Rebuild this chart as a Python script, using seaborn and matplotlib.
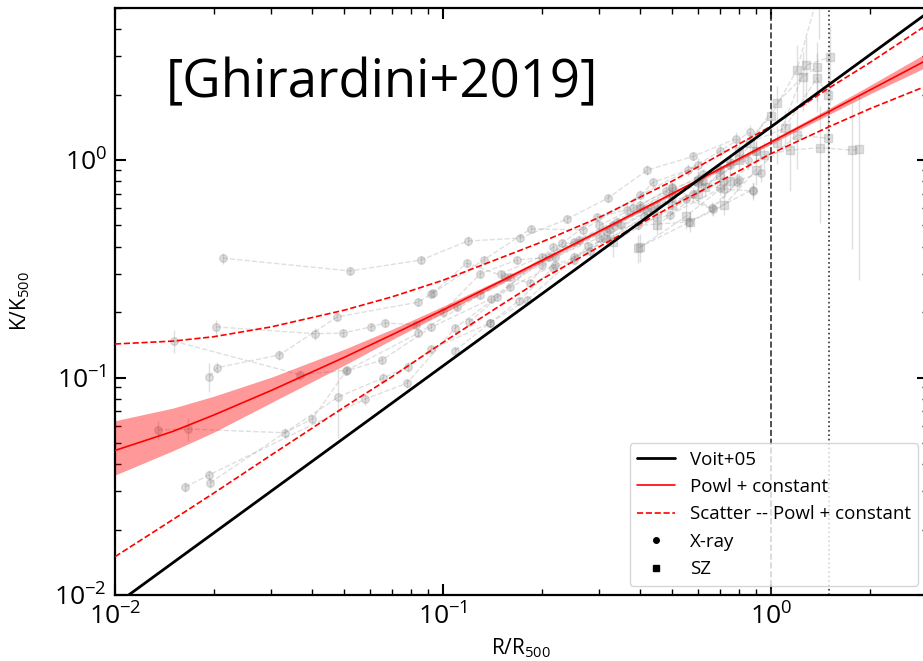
import matplotlib
matplotlib.use('Agg')
import matplotlib.pyplot as plt
import seaborn as sns
import pandas as pd

# Voit+05 baseline profile
voit_r = [0.01, 3.0]
voit_k = [0.0090, 4.75]

# powerlaw + constant fit (median and 68% band)
fit_r = [0.01, 0.015, 0.02, 0.03, 0.05, 0.07, 0.1, 0.15, 0.2, 0.3, 0.5, 0.7, 1.0, 1.5, 2.0, 3.0]
fit_k = [0.0462, 0.0565, 0.0672, 0.0873, 0.1238, 0.1574, 0.2044, 0.277, 0.345, 0.471,
         0.701, 0.913, 1.21, 1.668, 2.096, 2.893]
fit_lo = [0.0356, 0.0460, 0.0560, 0.0768, 0.1139, 0.1495, 0.1972, 0.270, 0.338, 0.464,
          0.690, 0.899, 1.186, 1.618, 2.012, 2.690]
fit_hi = [0.0633, 0.0723, 0.0820, 0.1004, 0.1349, 0.1668, 0.2126, 0.284, 0.352, 0.478,
          0.712, 0.927, 1.234, 1.726, 2.201, 3.124]

# intrinsic scatter around the fit
scat_up = [0.1426, 0.147, 0.154, 0.171, 0.204, 0.235, 0.28, 0.355, 0.42, 0.545,
           0.80, 1.06, 1.43, 2.14, 2.80, 4.20]
scat_lo = [0.0150, 0.0222, 0.0294, 0.0441, 0.0731, 0.101, 0.145, 0.215, 0.283, 0.400,
           0.615, 0.80, 1.07, 1.42, 1.72, 2.20]

# X-COP X-ray profiles (R/R500, K/K500, fractional error)
xray_r = [
    [0.0213, 0.052, 0.0857, 0.119, 0.172, 0.239, 0.318, 0.42, 0.58, 0.78],
    [0.0151, 0.0367, 0.051, 0.084, 0.13, 0.2, 0.32, 0.5, 0.75],
    [0.0203, 0.0406, 0.0494, 0.0604, 0.0665, 0.083, 0.11, 0.16, 0.25, 0.4, 0.62],
    [0.0194, 0.0205, 0.0317, 0.0476, 0.084, 0.092, 0.133, 0.185, 0.267, 0.4, 0.6],
    [0.0135, 0.0167, 0.0329, 0.040, 0.0506, 0.065, 0.092, 0.14, 0.21, 0.33, 0.5],
    [0.0164, 0.0194, 0.058, 0.0776, 0.109, 0.146, 0.217, 0.316, 0.492, 0.7],
    [0.0195, 0.048, 0.0657, 0.078, 0.092, 0.139, 0.18, 0.277, 0.393, 0.562, 0.88],
    [0.093, 0.118, 0.155, 0.184, 0.231, 0.295, 0.364, 0.437, 0.56, 0.7, 0.86],
    [0.10, 0.13, 0.168, 0.22, 0.30, 0.40, 0.50, 0.66, 0.80, 0.93],
    [0.12, 0.16, 0.22, 0.28, 0.35, 0.45, 0.60, 0.72, 0.88],
    [0.15, 0.20, 0.26, 0.34, 0.43, 0.55, 0.665, 0.79],
    [0.25, 0.32, 0.41, 0.50, 0.62, 0.75, 0.90],
    [0.30, 0.38, 0.48, 0.60, 0.70, 0.85],
    [0.109, 0.139, 0.17, 0.217, 0.25, 0.31, 0.42, 0.58, 0.72],
]
xray_k = [
    [0.354, 0.309, 0.347, 0.424, 0.438, 0.535, 0.668, 0.90, 1.04, 1.25],
    [0.147, 0.103, 0.108, 0.16, 0.24, 0.33, 0.48, 0.70, 0.98],
    [0.171, 0.159, 0.16, 0.171, 0.178, 0.175, 0.21, 0.29, 0.42, 0.60, 0.86],
    [0.101, 0.111, 0.127, 0.19, 0.222, 0.242, 0.347, 0.482, 0.477, 0.69, 0.95],
    [0.0574, 0.058, 0.0557, 0.0645, 0.107, 0.12, 0.17, 0.23, 0.36, 0.50, 0.74],
    [0.0314, 0.0357, 0.0797, 0.094, 0.169, 0.235, 0.398, 0.466, 0.56, 0.74],
    [0.0328, 0.0815, 0.0995, 0.112, 0.135, 0.178, 0.227, 0.402, 0.50, 0.52, 0.73],
    [0.244, 0.336, 0.29, 0.272, 0.415, 0.547, 0.589, 0.79, 0.90, 1.10, 1.34],
    [0.20, 0.30, 0.347, 0.36, 0.44, 0.62, 0.75, 0.60, 0.81, 0.87],
    [0.18, 0.26, 0.33, 0.38, 0.50, 0.62, 0.78, 0.735, 0.72],
    [0.30, 0.36, 0.43, 0.52, 0.60, 0.66, 0.595, 0.79],
    [0.36, 0.43, 0.55, 0.68, 0.80, 0.95, 1.10],
    [0.50, 0.60, 0.72, 0.82, 0.90, 1.00],
    [0.133, 0.178, 0.225, 0.32, 0.347, 0.44, 0.58, 0.70, 0.80],
]
xray_err = [
    [0.06, 0.04, 0.04, 0.05, 0.04, 0.04, 0.04, 0.05, 0.05, 0.08],
    [0.12, 0.05, 0.05, 0.04, 0.04, 0.04, 0.04, 0.05, 0.06],
    [0.08, 0.06, 0.04, 0.04, 0.04, 0.04, 0.04, 0.04, 0.04, 0.05, 0.06],
    [0.15, 0.06, 0.05, 0.04, 0.04, 0.04, 0.04, 0.04, 0.05, 0.05, 0.07],
    [0.10, 0.12, 0.05, 0.04, 0.04, 0.04, 0.04, 0.04, 0.04, 0.05, 0.06],
    [0.05, 0.05, 0.06, 0.05, 0.04, 0.04, 0.04, 0.04, 0.05, 0.07],
    [0.05, 0.35, 0.05, 0.05, 0.04, 0.04, 0.04, 0.04, 0.05, 0.06, 0.08],
    [0.05, 0.04, 0.04, 0.04, 0.04, 0.04, 0.05, 0.05, 0.06, 0.07, 0.08],
    [0.04, 0.04, 0.04, 0.04, 0.05, 0.05, 0.06, 0.07, 0.07, 0.09],
    [0.04, 0.04, 0.04, 0.05, 0.05, 0.06, 0.06, 0.08, 0.09],
    [0.04, 0.04, 0.05, 0.05, 0.06, 0.06, 0.07, 0.09],
    [0.05, 0.05, 0.05, 0.06, 0.07, 0.08, 0.10],
    [0.05, 0.06, 0.06, 0.07, 0.08, 0.10],
    [0.04, 0.04, 0.04, 0.05, 0.05, 0.05, 0.06, 0.07, 0.08],
]

# SZ profiles
sz_r = [
    [0.33, 0.45, 0.60, 0.80, 1.04, 1.25, 1.38],
    [0.40, 0.55, 0.75, 0.95, 1.14, 1.41, 1.76, 1.85],
    [0.50, 0.70, 0.90, 1.04, 1.28, 1.51],
    [0.45, 0.63, 0.86, 1.10, 1.38, 1.49],
    [0.393, 0.566, 0.72, 0.90, 1.20, 1.49],
    [0.60, 0.80, 1.00, 1.20, 1.40],
]
sz_k = [
    [0.42, 0.55, 0.70, 1.00, 1.83, 2.41, 2.68],
    [0.398, 0.55, 0.80, 1.05, 1.11, 1.14, 1.11, 1.12],
    [0.62, 0.85, 1.10, 1.20, 2.73, 2.97],
    [0.50, 0.75, 1.20, 1.40, 2.38, 1.99],
    [0.394, 0.52, 0.62, 0.90, 1.30, 1.26],
    [0.80, 1.10, 1.60, 2.60, 6.00],
]
sz_err = [
    [0.15, 0.12, 0.10, 0.10, 0.20, 0.30, 0.30],
    [0.15, 0.12, 0.10, 0.15, 0.35, 0.55, 0.65, 0.75],
    [0.10, 0.10, 0.12, 0.20, 0.35, 0.40],
    [0.10, 0.10, 0.12, 0.20, 0.30, 0.45],
    [0.15, 0.10, 0.10, 0.15, 0.30, 0.40],
    [0.10, 0.12, 0.20, 0.30, 0.40],
]

sns.set_theme(style='ticks')
plt.rcParams['font.family'] = ['Open Sans', 'DejaVu Sans']
plt.rcParams['mathtext.default'] = 'regular'
plt.rcParams['text.color'] = 'black'
plt.rcParams['axes.labelcolor'] = 'black'
plt.rcParams['xtick.color'] = 'black'
plt.rcParams['ytick.color'] = 'black'

fig = plt.figure(figsize=(9.23, 6.61), dpi=100)
ax = fig.add_axes([115 / 923, 66 / 661, 812.5 / 923, 587 / 661])

for r, k, e in zip(xray_r, xray_k, xray_err):
    yerr = [ki * ei for ki, ei in zip(k, e)]
    ax.errorbar(r, k, yerr=yerr, fmt='o', ls='--', lw=1, ms=5.5, color='gray',
                alpha=0.25, elinewidth=1, capsize=0, zorder=1)
for r, k, e in zip(sz_r, sz_k, sz_err):
    yerr = [ki * ei for ki, ei in zip(k, e)]
    ax.errorbar(r, k, yerr=yerr, fmt='s', ls='--', lw=1, ms=5.5, color='gray',
                alpha=0.25, elinewidth=1, capsize=0, zorder=1)

fit = pd.DataFrame({'r': fit_r, 'k': fit_k, 'lo': fit_lo, 'hi': fit_hi,
                    'up': scat_up, 'down': scat_lo})

sns.lineplot(x=voit_r, y=voit_k, ax=ax, color='black', lw=2, label='Voit+05', zorder=4)
ax.fill_between(fit['r'], fit['lo'], fit['hi'], color='red', alpha=0.4, lw=0, zorder=2)
sns.lineplot(data=fit, x='r', y='k', ax=ax, color='red', lw=1.2,
             label='Powl + constant', estimator=None, sort=False, zorder=3)
sns.lineplot(data=fit, x='r', y='up', ax=ax, color='red', lw=1.2, ls='--',
             label='Scatter -- Powl + constant', estimator=None, sort=False, zorder=3)
sns.lineplot(data=fit, x='r', y='down', ax=ax, color='red', lw=1.2, ls='--',
             estimator=None, sort=False, zorder=3)
ax.plot([], [], 'o', color='black', ms=4, label='X-ray')
ax.plot([], [], 's', color='black', ms=4, label='SZ')

ax.axvline(1.0, color='#333333', ls='--', lw=1.2, zorder=2)
ax.axvline(1.5, color='#333333', ls=':', lw=1.2, zorder=2)

ax.set_xscale('log')
ax.set_yscale('log')
ax.set_xlim(0.01, 3.0)
ax.set_ylim(0.01, 5.0)

ax.text(0.062, 0.848, '[Ghirardini+2019]', transform=ax.transAxes, fontsize=38,
        va='baseline', ha='left', color='black')

ax.set_xlabel('R/R$_{500}$', fontsize=15, labelpad=4)
ax.set_ylabel('K/K$_{500}$', fontsize=15, labelpad=16)

ax.tick_params(which='both', direction='in', top=True, right=True)
ax.tick_params(which='major', length=8, width=1.5, labelsize=19, pad=6)
ax.tick_params(which='minor', length=4, width=1)
for s in ax.spines.values():
    s.set_linewidth(1.6)
    s.set_color('black')

h, l = ax.get_legend_handles_labels()
ax.legend(h, l, loc='lower right', fontsize=13.5, borderaxespad=0.5, framealpha=0.8)

fig.savefig('out.png', dpi=100)
